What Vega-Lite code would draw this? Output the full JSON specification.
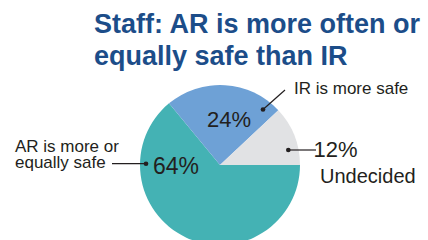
{
  "$schema": "https://vega.github.io/schema/vega-lite/v6.json",
  "width": 428,
  "height": 160,
  "autosize": {"type": "none"},
  "padding": {"left": 0, "right": 0, "top": 80, "bottom": 0},
  "background": "white",
  "config": {"view": {"stroke": null}, "font": "Liberation Sans"},
  "title": {
    "text": ["Staff: AR is more often or", "equally safe than IR"],
    "fontSize": 27,
    "fontWeight": "bold",
    "color": "#1c4d89",
    "font": "Liberation Sans",
    "anchor": "start",
    "frame": "group",
    "dx": 94,
    "offset": 9,
    "lineHeight": 32.5
  },
  "data": {
    "values": [
      {"key": "AR", "cat": "AR is more or\nequally safe", "share": 64, "pct": "64%"},
      {"key": "IR", "cat": "IR is more safe", "share": 24, "pct": "24%"},
      {"key": "UN", "cat": "Undecided", "share": 12, "pct": "12%"}
    ]
  },
  "layer": [
    {
      "mark": {"type": "arc", "radius": 80},
      "encoding": {
        "theta": {"field": "share", "type": "quantitative", "stack": true, "scale": {"range": [1.5708, 7.854]}},
        "color": {"field": "key", "type": "nominal", "scale": {"domain": ["AR", "IR", "UN"], "range": ["#44b2b4", "#6ea1d6", "#e1e2e4"]}, "legend": null},
        "x": {"datum": 0, "type": "quantitative", "scale": {"domain": [-275, 260], "nice": false, "zero": false}, "axis": null},
        "y": {"datum": 0, "type": "quantitative", "scale": {"domain": [-93.75, 106.25], "nice": false, "zero": false}, "axis": null}
      }
    },
    {
      "transform": [{"filter": "datum.key === 'AR'"}],
      "mark": {"type": "rule", "color": "#231f20", "strokeWidth": 1.2},
      "encoding": {"x": {"datum": -135}, "x2": {"datum": -92.5}, "y": {"datum": 1.6}}
    },
    {
      "transform": [{"filter": "datum.key === 'IR'"}],
      "mark": {"type": "rule", "color": "#231f20", "strokeWidth": 1.2},
      "encoding": {"x": {"datum": 81.25}, "x2": {"datum": 53.75}, "y": {"datum": 93.75}, "y2": {"datum": 69.4}}
    },
    {
      "transform": [{"filter": "datum.key === 'UN'"}],
      "mark": {"type": "rule", "color": "#231f20", "strokeWidth": 1.2},
      "encoding": {"x": {"datum": 85.4}, "x2": {"datum": 120}, "y": {"datum": 18.75}}
    },
    {
      "transform": [{"filter": "datum.key === 'AR'"}],
      "mark": {"type": "point", "filled": true, "size": 22, "color": "#231f20", "opacity": 1},
      "encoding": {"x": {"datum": -92.5}, "y": {"datum": 1.6}}
    },
    {
      "transform": [{"filter": "datum.key === 'IR'"}],
      "mark": {"type": "point", "filled": true, "size": 22, "color": "#231f20", "opacity": 1},
      "encoding": {"x": {"datum": 53.75}, "y": {"datum": 69.4}}
    },
    {
      "transform": [{"filter": "datum.key === 'UN'"}],
      "mark": {"type": "point", "filled": true, "size": 22, "color": "#231f20", "opacity": 1},
      "encoding": {"x": {"datum": 85.4}, "y": {"datum": 18.75}}
    },
    {
      "transform": [{"filter": "datum.key === 'AR'"}],
      "mark": {"type": "text", "align": "left", "baseline": "alphabetic", "fontSize": 23, "color": "#231f20"},
      "encoding": {"text": {"field": "pct"}, "x": {"datum": -83.75}, "y": {"datum": -11.6}}
    },
    {
      "transform": [{"filter": "datum.key === 'IR'"}],
      "mark": {"type": "text", "align": "left", "baseline": "alphabetic", "fontSize": 22, "color": "#231f20"},
      "encoding": {"text": {"field": "pct"}, "x": {"datum": -16.25}, "y": {"datum": 47.9}}
    },
    {
      "transform": [{"filter": "datum.key === 'UN'"}],
      "mark": {"type": "text", "align": "left", "baseline": "alphabetic", "fontSize": 22, "color": "#231f20"},
      "encoding": {"text": {"field": "pct"}, "x": {"datum": 117}, "y": {"datum": 10.4}}
    },
    {
      "transform": [{"filter": "datum.key === 'AR'"}],
      "mark": {"type": "text", "align": "left", "baseline": "alphabetic", "fontSize": 17, "lineHeight": 16, "lineBreak": "\n", "color": "#231f20"},
      "encoding": {"text": {"field": "cat"}, "x": {"datum": -256.25}, "y": {"datum": 16.2}}
    },
    {
      "transform": [{"filter": "datum.key === 'IR'"}],
      "mark": {"type": "text", "align": "left", "baseline": "alphabetic", "fontSize": 17, "color": "#231f20"},
      "encoding": {"text": {"field": "cat"}, "x": {"datum": 92.5}, "y": {"datum": 88.75}}
    },
    {
      "transform": [{"filter": "datum.key === 'UN'"}],
      "mark": {"type": "text", "align": "left", "baseline": "alphabetic", "fontSize": 20, "color": "#231f20"},
      "encoding": {"text": {"field": "cat"}, "x": {"datum": 125}, "y": {"datum": -22.1}}
    }
  ]
}
